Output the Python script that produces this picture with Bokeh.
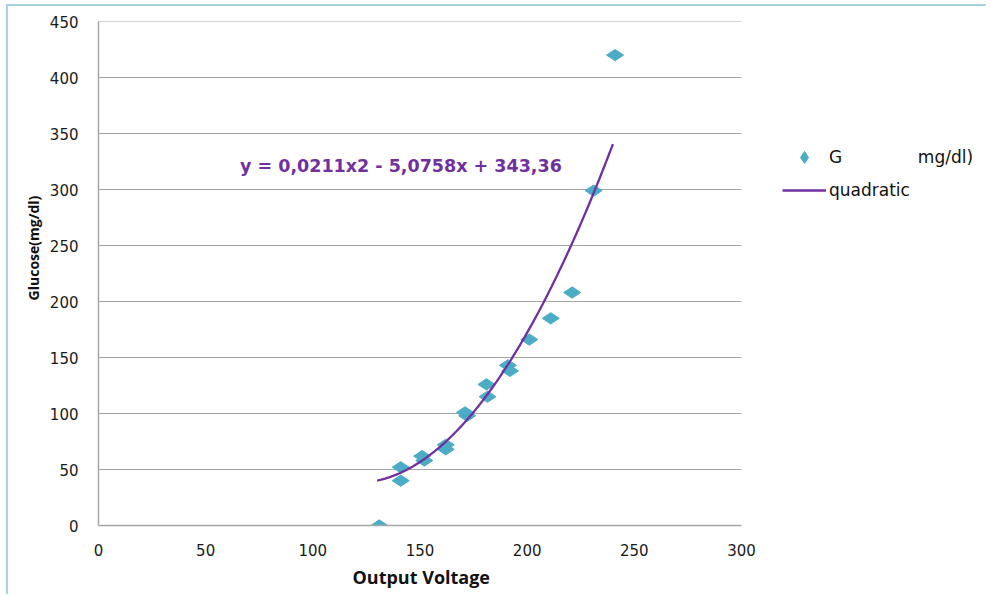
import numpy as np
from bokeh.plotting import figure
from bokeh.models import Legend, LegendItem, FixedTicker, Title
from bokeh.core.properties import value
from bokeh.embed import file_html
from bokeh.resources import INLINE

# data
voltage = [131, 141, 141, 151, 152, 162, 162, 171, 172, 181, 181.5, 191, 192, 201, 211, 221, 231, 241]
glucose = [0, 52, 40, 62, 58, 72, 68, 101, 98, 126, 115, 143, 138, 166, 185, 208, 299, 420]
# displayed trendline coefficients: y = a*x^2 + b*x + c
coef = [0.0211, -5.0758, 343.36]
fit_range = [130, 240]
equation = "y = 0,0211x2  - 5,0758x  + 343,36"
x_ticks = [0, 50, 100, 150, 200, 250, 300]
y_ticks = [0, 50, 100, 150, 200, 250, 300, 350, 400, 450]
x_axis_span = (0, 300)
x_title = "Output Voltage"
y_title = "Glucose(mg/dl)"

xs = np.linspace(fit_range[0], fit_range[1], 120)
ys = coef[0] * xs**2 + coef[1] * xs + coef[2]

W, H = 980, 590
BL, BR, BT = 90, 4, 15
frame_h = 504
BB = H - BT - frame_h
frame_w = W - BL - BR
plot_px = 643  # width of the plotted 0..300 area
x_end = x_axis_span[1] * frame_w / plot_px

p = figure(width=W, height=H, x_range=(0, x_end), y_range=(0, 450),
           output_backend="svg", toolbar_location=None,
           min_border_left=BL, min_border_right=BR, min_border_top=BT, min_border_bottom=BB)
p.styles = {"border-left": "2px solid #a9d3e3", "border-top": "2px solid #a9d3e3",
            "margin-left": "6px", "margin-top": "4px"}
p.outline_line_color = None
p.background_fill_color = "white"
p.border_fill_color = "white"
p.xgrid.grid_line_color = None
p.ygrid.grid_line_color = None

# horizontal gridlines limited to the 0..300 area
p.segment(x0=x_axis_span[0], x1=x_axis_span[1], y0=y_ticks[1:], y1=y_ticks[1:],
          line_color="#a6a6a6", line_width=1.2)

p.xaxis.ticker = FixedTicker(ticks=x_ticks)
p.yaxis.ticker = FixedTicker(ticks=y_ticks)
p.xaxis.bounds = x_axis_span
for ax in (p.xaxis[0], p.yaxis[0]):
    ax.axis_line_color = "#a6a6a6"
    ax.axis_line_width = 1.5
    ax.major_tick_line_color = None
    ax.minor_tick_line_color = None
    ax.major_tick_out = 0
    ax.major_tick_in = 0
    ax.major_label_text_font = "DejaVu Sans"
    ax.major_label_text_font_size = "15px"
    ax.major_label_text_color = "#1a1a1a"
p.yaxis.axis_label = "\u00a0" * 14 + y_title
p.yaxis.axis_label_text_font = "Open Sans"
p.yaxis.axis_label_text_font_style = "bold"
p.yaxis.axis_label_text_color = "#111111"
p.yaxis.axis_label_text_font_size = "14px"
p.xaxis.major_label_standoff = 18
p.yaxis.major_label_standoff = 20
p.yaxis.axis_label_standoff = 4

xt = Title(text=x_title, align="left", offset=254, standoff=8,
           text_font="Open Sans", text_font_style="bold", text_font_size="18px",
           text_color="#111111")
p.add_layout(xt, "below")

pts = p.scatter(voltage, glucose, marker="diamond", size=17, angle=np.pi / 2,
                fill_color="#4bacc6", line_color="#4bacc6")
ln = p.line(xs, ys, line_color="#7030a0", line_width=2.3)

p.text(x=[66], y=[321], text=[equation], text_font=value("DejaVu Sans"),
       text_font_style="bold", text_font_size="17.5px", text_color="#7030a0",
       text_baseline="middle", text_align="left")

legend = Legend(items=[LegendItem(label="G" + "\u00a0" * 14 + "mg/dl)", renderers=[pts]),
                       LegendItem(label="quadratic", renderers=[ln])],
                location=(684, 320), padding=0, margin=0, spacing=3,
                glyph_width=44, glyph_height=30, label_height=20, label_standoff=3,
                label_text_font="DejaVu Sans", label_text_font_size="17px",
                label_text_color="#111111", border_line_color=None,
                background_fill_alpha=0)
p.add_layout(legend)

open("out.html", "w").write(file_html(p, INLINE))
